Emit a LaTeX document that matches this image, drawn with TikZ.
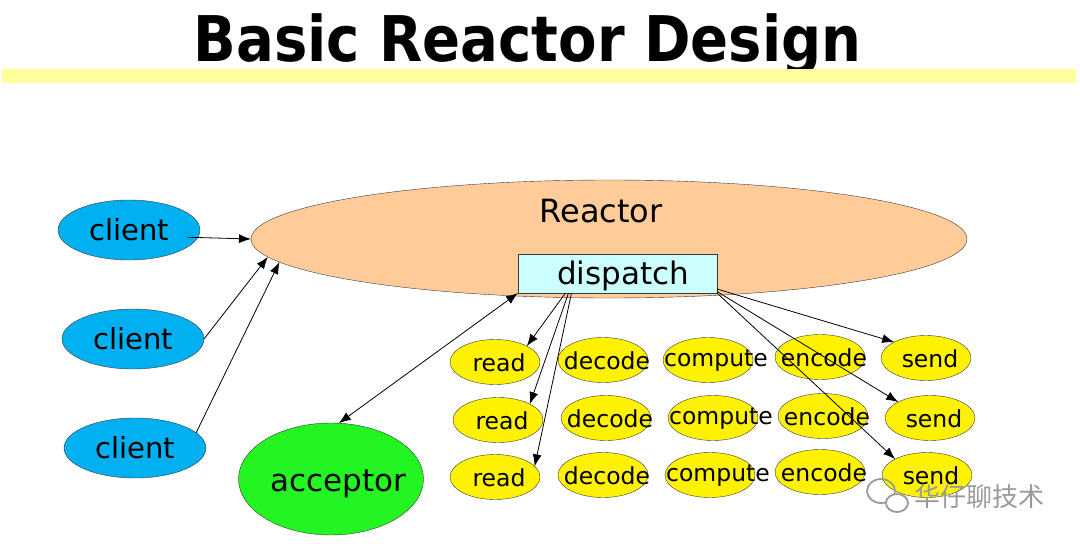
\documentclass[tikz,border=0pt]{standalone}
\usepackage{fontspec}
\setmainfont{DejaVu Sans}
\newfontfamily\cjk{Noto Sans CJK SC}
\usepackage{tikz}
\usetikzlibrary{shapes.geometric, arrows.meta}
\usepackage{xcolor}

\definecolor{clientblue}{HTML}{00B0F0}
\definecolor{reactorpeach}{HTML}{FFCC99}
\definecolor{acceptgreen}{HTML}{22F522}
\definecolor{dispatchcyan}{HTML}{CCFFFF}
\definecolor{barYellow}{HTML}{FFFF99}
\definecolor{outline}{HTML}{3A3A3A}
\definecolor{markgrey}{HTML}{9A9A9A}

\begin{document}
\begin{tikzpicture}[
    x=1pt, y=-1pt,
    >={Latex[length=12pt,width=9pt]},
    every node/.style={inner sep=0pt, outer sep=0pt},
    client/.style={ellipse, draw=outline, fill=clientblue, minimum width=142pt,
        minimum height=60pt, font=\fontsize{29}{29}\selectfont},
    task/.style={ellipse, draw=outline, fill=yellow, minimum width=90pt,
        minimum height=45pt, label={[font=\fontsize{23.5}{23.5}\selectfont, xshift=4pt, yshift=-1pt]center:#1}},
    link/.style={->, draw=black, line width=0.8pt}
]
    \useasboundingbox (0,0) rectangle (1080,544);

    % Title
    \node[anchor=base, xscale=0.89, font=\fontsize{63}{63}\selectfont\bfseries] (title) at (527.5,61) {Basic Reactor Design};
    \fill[barYellow] (2,69) rectangle (1076,83);

    % Define nodes
    \node[ellipse, draw=outline, fill=reactorpeach, minimum width=716pt, minimum height=118pt] (reactor) at (609,239) {};
    \node[anchor=base, font=\fontsize{32}{32}\selectfont] (reactortext) at (601,222) {Reactor};
    \node[draw=outline, fill=dispatchcyan, minimum width=199pt, minimum height=39pt] (dispatch) at (617.5,273.5) {};
    \node[anchor=base, font=\fontsize{31}{31}\selectfont] (dispatchtext) at (623,284) {dispatch};

    \node[client] (client1) at (129,230) {client};
    \node[client] (client2) at (133,339) {client};
    \node[client] (client3) at (135,448) {client};

    \node[ellipse, draw=outline, fill=acceptgreen, minimum width=185pt, minimum height=112pt] (acceptor) at (331,479) {};
    \node[anchor=base, font=\fontsize{31}{31}\selectfont] (acceptortext) at (338,491) {acceptor};

    % Handlers
    \node[task=read] (read1) at (495,362) {};
    \node[task=decode] (decode1) at (603,360) {};
    \node[task={\hspace{8pt}compute}] (compute1) at (708,360) {};
    \node[task=encode] (encode1) at (820,357) {};
    \node[task=send] (send1) at (926,358) {};

    \node[task=read] (read2) at (498,420) {};
    \node[task=decode] (decode2) at (606,418) {};
    \node[task={\hspace{8pt}compute}] (compute2) at (713,418) {};
    \node[task=encode] (encode2) at (823,416) {};
    \node[task=send] (send2) at (930,418) {};

    \node[task=read] (read3) at (495,477) {};
    \node[task=decode] (decode3) at (603,475) {};
    \node[task={\hspace{8pt}compute}] (compute3) at (710,475) {};
    \node[task=encode] (encode3) at (820,472) {};
    \node[task=send] (send3) at (927,475) {};

    % Transitions
    \draw[link] ([xshift=-10pt]client1.-6) -- (reactor.west);
    \draw[link] (client2.east) -- (reactor.183);
    \draw[link] (client3.14) -- (reactor.184.5);
    \draw[link, <->] (acceptor.82) -- (dispatch.south west);

    \draw[link] ([xshift=-52pt]dispatch.south) -- (read1.north east);
    \draw[link] ([xshift=-49pt]dispatch.south) -- (read2.north east);
    \draw[link] ([xshift=-46pt]dispatch.south) -- (read3.15);

    \draw[link] ([yshift=4pt]dispatch.south east) -- (send1.north west);
    \draw[link] ([yshift=1.5pt]dispatch.south east) -- (send2.north west);
    \draw[link] (dispatch.south east) -- (send3.north west);

    % Watermark
    \draw[markgrey, line width=1.8pt] (881,491) ellipse (14pt and 12pt);
    \draw[markgrey, line width=1.8pt, fill=white] (897,503) ellipse (11pt and 9pt);
    \node[anchor=base west, text=markgrey, font=\cjk\fontsize{26}{26}\selectfont] (mark) at (914,506) {华仔聊技术};
\end{tikzpicture}
\end{document}
